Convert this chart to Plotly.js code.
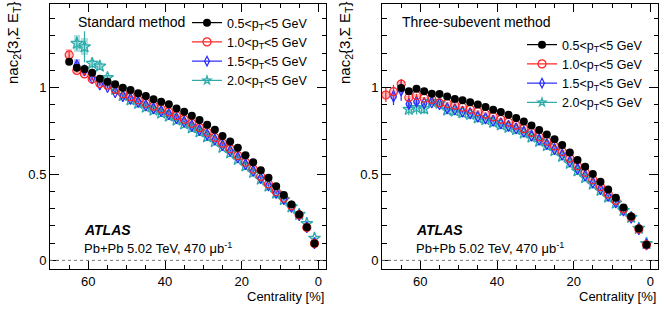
<!DOCTYPE html>
<html>
<head>
<meta charset="utf-8">
<script src="https://cdn.plot.ly/plotly-3.0.1.min.js"></script>
<style>html,body{margin:0;padding:0;background:#fff;}#chart{width:664px;height:312px;}</style>
</head>
<body>
<div id="chart"></div>
<script>
// ---------- data ----------
const seriesNames = ["0.5&lt;p<sub>T</sub>&lt;5 GeV", "1.0&lt;p<sub>T</sub>&lt;5 GeV", "1.5&lt;p<sub>T</sub>&lt;5 GeV", "2.0&lt;p<sub>T</sub>&lt;5 GeV"];
const xTickVals = [0, 20, 40, 60];
const yTickVals = [0, 0.5, 1];
const yTickText = ["0", "0.5", "1"];

// Standard method (left panel)
const centL_black = [65,63,61,59,57,55,53,51,49,47,45,43,41,39,37,35,33,31,29,27,25,23,21,19,17,15,13,11,9,7,5,3,1];
const valL_black  = [1.150,1.116,1.108,1.087,1.052,1.035,1.020,1.000,0.987,0.968,0.952,0.933,0.919,0.904,0.880,0.861,0.837,0.813,0.785,0.756,0.721,0.688,0.652,0.609,0.568,0.522,0.478,0.430,0.379,0.324,0.266,0.192,0.097];
const statL_black = [0.006,0.006,0.005,0.005,0.004,0.004,0.004,0.003,0.003,0.003,0.003,0.003,0.003,0.003,0.003,0.003,0.003,0.003,0.003,0.003,0.003,0.003,0.003,0.003,0.003,0.003,0.003,0.003,0.003,0.003,0.003,0.003,0.003];
const sysL_black  = [0.014,0.014,0.013,0.012,0.012,0.011,0.010,0.010,0.010,0.010,0.010,0.010,0.010,0.010,0.010,0.010,0.010,0.010,0.010,0.010,0.010,0.010,0.010,0.010,0.010,0.010,0.009,0.009,0.009,0.008,0.008,0.007,0.006];

const centL_red = [65,63,61,59,57,55,53,51,49,47,45,43,41,39,37,35,33,31,29,27,25,23,21,19,17,15,13,11,9,7,5,3,1];
const valL_red  = [1.190,1.100,1.080,1.050,1.025,1.015,0.990,0.965,0.948,0.930,0.910,0.893,0.877,0.860,0.838,0.817,0.794,0.769,0.742,0.712,0.679,0.646,0.607,0.568,0.529,0.486,0.443,0.399,0.361,0.316,0.263,0.190,0.097];
const statL_red = [0.020,0.012,0.008,0.007,0.006,0.005,0.005,0.004,0.004,0.004,0.004,0.004,0.004,0.004,0.004,0.004,0.004,0.004,0.004,0.004,0.004,0.004,0.004,0.004,0.004,0.004,0.004,0.004,0.004,0.004,0.004,0.004,0.004];
const sysL_red  = [0.035,0.015,0.012,0.012,0.011,0.010,0.010,0.010,0.010,0.010,0.010,0.010,0.010,0.010,0.010,0.010,0.010,0.010,0.010,0.010,0.010,0.010,0.010,0.010,0.010,0.010,0.009,0.009,0.009,0.008,0.008,0.007,0.006];

const centL_blue = [63,61,59,57,55,53,51,49,47,45,43,41,39,37,35,33,31,29,27,25,23,21,19,17,15,13,11,9,7,5,3,1];
const valL_blue  = [1.130,1.100,1.055,1.020,1.005,0.975,0.952,0.935,0.918,0.898,0.881,0.865,0.847,0.824,0.803,0.781,0.756,0.729,0.700,0.667,0.634,0.596,0.557,0.518,0.476,0.434,0.391,0.354,0.310,0.262,0.192,0.100];
const statL_blue = [0.025,0.015,0.010,0.008,0.007,0.006,0.005,0.005,0.005,0.005,0.005,0.005,0.005,0.005,0.005,0.005,0.005,0.005,0.005,0.005,0.005,0.005,0.005,0.005,0.005,0.005,0.005,0.005,0.005,0.005,0.005,0.005];
const sysL_blue  = [0.035,0.015,0.012,0.012,0.011,0.010,0.010,0.010,0.010,0.010,0.010,0.010,0.010,0.010,0.010,0.010,0.010,0.010,0.010,0.010,0.010,0.010,0.010,0.010,0.010,0.010,0.009,0.009,0.009,0.008,0.008,0.007];

const centL_cyan = [63,61,59,57,55,53,51,49,47,45,43,41,39,37,35,33,31,29,27,25,23,21,19,17,15,13,11,9,7,5,3,1];
const valL_cyan  = [1.257,1.237,1.141,1.125,1.058,0.990,0.955,0.930,0.910,0.888,0.870,0.853,0.835,0.812,0.790,0.768,0.744,0.716,0.688,0.655,0.622,0.585,0.548,0.510,0.470,0.430,0.389,0.352,0.310,0.266,0.213,0.128];
const statL_cyan = [0.040,0.090,0.030,0.022,0.015,0.010,0.008,0.007,0.006,0.006,0.006,0.006,0.006,0.006,0.006,0.006,0.006,0.006,0.006,0.006,0.006,0.006,0.006,0.006,0.006,0.006,0.006,0.006,0.006,0.006,0.006,0.006];
const sysL_cyan  = [0.050,0.050,0.022,0.020,0.016,0.012,0.011,0.010,0.010,0.010,0.010,0.010,0.010,0.010,0.010,0.010,0.010,0.010,0.010,0.010,0.010,0.010,0.010,0.010,0.010,0.010,0.009,0.009,0.009,0.008,0.008,0.007];

// Three-subevent method (right panel)
const centR_black = [65,63,61,59,57,55,53,51,49,47,45,43,41,39,37,35,33,31,29,27,25,23,21,19,17,15,13,11,9,7,5,3,1];
const valR_black  = [0.998,0.979,0.994,0.980,0.965,0.963,0.949,0.935,0.928,0.916,0.903,0.888,0.873,0.860,0.843,0.825,0.805,0.781,0.755,0.729,0.701,0.668,0.625,0.582,0.543,0.501,0.456,0.410,0.363,0.306,0.254,0.185,0.090];
const statR_black = [0.012,0.008,0.006,0.005,0.005,0.004,0.004,0.004,0.004,0.003,0.003,0.003,0.003,0.003,0.003,0.003,0.003,0.003,0.003,0.003,0.003,0.003,0.003,0.003,0.003,0.003,0.003,0.003,0.003,0.003,0.003,0.003,0.003];
const sysR_black  = [0.012,0.011,0.011,0.010,0.010,0.010,0.010,0.010,0.010,0.010,0.010,0.010,0.010,0.010,0.010,0.010,0.010,0.010,0.010,0.010,0.010,0.010,0.010,0.010,0.010,0.010,0.009,0.009,0.009,0.008,0.008,0.007,0.006];

const centR_red = [69,67,65,63,61,59,57,55,53,51,49,47,45,43,41,39,37,35,33,31,29,27,25,23,21,19,17,15,13,11,9,7,5,3,1];
const valR_red  = [0.958,0.977,1.021,0.944,0.955,0.939,0.932,0.912,0.909,0.899,0.887,0.875,0.861,0.847,0.832,0.817,0.800,0.783,0.763,0.741,0.716,0.690,0.662,0.630,0.592,0.548,0.509,0.467,0.427,0.385,0.347,0.298,0.251,0.182,0.090];
const statR_red = [0.040,0.040,0.030,0.012,0.010,0.008,0.007,0.006,0.006,0.005,0.005,0.005,0.005,0.005,0.005,0.005,0.004,0.004,0.004,0.004,0.004,0.004,0.004,0.004,0.004,0.004,0.004,0.004,0.004,0.004,0.004,0.004,0.004,0.004,0.004];
const sysR_red  = [0.015,0.012,0.012,0.011,0.011,0.010,0.010,0.010,0.010,0.010,0.010,0.010,0.010,0.010,0.010,0.010,0.010,0.010,0.010,0.010,0.010,0.010,0.010,0.010,0.010,0.010,0.010,0.010,0.009,0.009,0.009,0.008,0.008,0.007,0.006];

const centR_blue = [67,65,63,61,59,57,55,53,51,49,47,45,43,41,39,37,35,33,31,29,27,25,23,21,19,17,15,13,11,9,7,5,3,1];
const valR_blue  = [0.950,0.985,0.906,0.919,0.910,0.915,0.905,0.881,0.875,0.861,0.852,0.832,0.823,0.809,0.794,0.779,0.764,0.745,0.722,0.699,0.674,0.645,0.612,0.572,0.530,0.491,0.451,0.413,0.373,0.336,0.290,0.247,0.181,0.092];
const statR_blue = [0.050,0.060,0.025,0.020,0.012,0.010,0.008,0.007,0.006,0.006,0.006,0.006,0.006,0.006,0.005,0.005,0.005,0.005,0.005,0.005,0.005,0.005,0.005,0.005,0.005,0.005,0.005,0.005,0.005,0.005,0.005,0.005,0.005,0.005];
const sysR_blue  = [0.015,0.015,0.012,0.012,0.011,0.010,0.010,0.010,0.010,0.010,0.010,0.010,0.010,0.010,0.010,0.010,0.010,0.010,0.010,0.010,0.010,0.010,0.010,0.010,0.010,0.010,0.010,0.009,0.009,0.009,0.008,0.008,0.007,0.006];

const centR_cyan = [63,61,59,57,55,53,51,49,47,45,43,41,39,37,35,33,31,29,27,25,23,21,19,17,15,13,11,9,7,5,3,1];
const valR_cyan  = [0.875,0.885,0.878,0.920,0.910,0.870,0.865,0.855,0.846,0.826,0.815,0.800,0.785,0.771,0.757,0.737,0.714,0.690,0.665,0.636,0.603,0.562,0.518,0.480,0.442,0.405,0.367,0.332,0.289,0.249,0.186,0.097];
const statR_cyan = [0.035,0.040,0.030,0.015,0.012,0.010,0.008,0.007,0.007,0.006,0.006,0.006,0.006,0.006,0.006,0.006,0.006,0.006,0.006,0.006,0.006,0.006,0.006,0.006,0.006,0.006,0.006,0.006,0.006,0.006,0.006,0.006];
const sysR_cyan  = [0.015,0.015,0.012,0.012,0.011,0.010,0.010,0.010,0.010,0.010,0.010,0.010,0.010,0.010,0.010,0.010,0.010,0.010,0.010,0.010,0.010,0.010,0.010,0.010,0.010,0.010,0.009,0.009,0.009,0.008,0.008,0.007];

// ---------- styles ----------
const FONT = "Liberation Sans, Arial, Helvetica, sans-serif";
const styles = [
  {color: "#000000", box: "rgba(150,150,150,0.45)", symbol: "circle", size: 8, lw: 0, lsize: 8},
  {color: "#ff2020", box: "rgba(255,110,110,0.45)", symbol: "circle-open", size: 8, lw: 1.2, lsize: 8},
  {color: "#2828ff", box: "rgba(110,110,255,0.45)", symbol: "diamond-tall-open", size: 8, lw: 1.2, lsize: 7},
  {color: "#2eaaaa", box: "rgba(80,190,190,0.45)", symbol: "star-open", size: 9, lw: 1.3, lsize: 6}
];

const panels = [
  {xa: "x", ya: "y", legend: "legend", sets: [
    [centL_black, valL_black, statL_black, sysL_black],
    [centL_red, valL_red, statL_red, sysL_red],
    [centL_blue, valL_blue, statL_blue, sysL_blue],
    [centL_cyan, valL_cyan, statL_cyan, sysL_cyan]]},
  {xa: "x2", ya: "y2", legend: "legend2", sets: [
    [centR_black, valR_black, statR_black, sysR_black],
    [centR_red, valR_red, statR_red, sysR_red],
    [centR_blue, valR_blue, statR_blue, sysR_blue],
    [centR_cyan, valR_cyan, statR_cyan, sysR_cyan]]}
];

const traces = [];
// systematic boxes
panels.forEach(p => {
  p.sets.forEach((s, i) => {
    const [c, v, st, sy] = s;
    traces.push({
      type: "bar", x: c, y: sy.map(e => 2 * e), base: v.map((val, k) => val - sy[k]),
      width: 1.7, xaxis: p.xa, yaxis: p.ya, showlegend: false, hoverinfo: "skip",
      marker: {color: styles[i].box, line: {width: 0}}
    });
  });
});
// points with stat errors (drawn in reverse so black is on top)
panels.forEach(p => {
  for (let i = 3; i >= 0; i--) {
    const [c, v, st] = p.sets[i];
    const sty = styles[i];
    traces.push({
      type: "scatter", mode: "markers", x: c, y: v, xaxis: p.xa, yaxis: p.ya, showlegend: false,
      error_y: {type: "data", array: st, visible: true, width: 0, thickness: 1.2, color: sty.color},
      marker: {symbol: sty.symbol, size: sty.size, color: sty.color, line: {color: sty.color, width: sty.lw}}
    });
  }
});
// legend entries
panels.forEach(p => {
  for (let i = 0; i < 4; i++) {
    const sty = styles[i];
    traces.push({
      type: "scatter", mode: "lines+markers", x: [null], y: [null], xaxis: p.xa, yaxis: p.ya,
      name: seriesNames[i], legend: p.legend, showlegend: true,
      line: {color: sty.color, width: 1.2},
      marker: {symbol: sty.symbol, size: sty.lsize, color: sty.color, line: {color: sty.color, width: sty.lw}}
    });
  }
});

const W = 664, H = 312;
const px = v => v / W, py = v => 1 - v / H;

function xax(dom, anchor) {
  return {domain: dom, anchor: anchor, range: [70, -2], autorange: false,
    tickvals: xTickVals, ticks: "inside", ticklen: 8, tickwidth: 1, tickcolor: "#000",
    minor: {dtick: 5, tick0: 0, ticks: "inside", ticklen: 4, tickcolor: "#000", tickwidth: 1},
    showline: true, linecolor: "#000", linewidth: 1, mirror: "ticks", showgrid: false, zeroline: false,
    tickfont: {family: FONT, size: 13, color: "#000"}, fixedrange: true};
}
function yax(anchor) {
  return {domain: [py(269), py(4)], anchor: anchor, range: [-0.05, 1.485], autorange: false,
    tickvals: yTickVals, ticktext: yTickText, ticks: "inside", ticklen: 9, tickwidth: 1, tickcolor: "#000",
    minor: {dtick: 0.1, tick0: 0, ticks: "inside", ticklen: 4.5, tickcolor: "#000", tickwidth: 1},
    showline: true, linecolor: "#000", linewidth: 1, mirror: "ticks", showgrid: false, zeroline: false,
    tickfont: {family: FONT, size: 13, color: "#000"}, fixedrange: true};
}

const legendBase = {bgcolor: "rgba(0,0,0,0)", borderwidth: 0, font: {family: FONT, size: 12.5, color: "#000"},
  itemwidth: 30, xanchor: "left", yanchor: "top", tracegroupgap: 0, itemclick: false};

const ann = [];
function addText(text, x, y, opts) {
  ann.push(Object.assign({text: text, x: px(x), y: py(y), xref: "paper", yref: "paper", showarrow: false,
    xanchor: "left", yanchor: "middle", font: {family: FONT, size: 13, color: "#000"}}, opts || {}));
}
addText("Standard method", 76, 22, {font: {family: FONT, size: 14, color: "#000"}});
addText("Three-subevent method", 400, 22, {font: {family: FONT, size: 14, color: "#000"}});
[82, 414].forEach(x0 => {
  addText("<b><i>ATLAS</i></b>", x0, 230, {font: {family: FONT, size: 14, color: "#000"}});
  addText("Pb+Pb 5.02 TeV, 470 μb<sup>-1</sup>", x0, 248);
});
[13, 345].forEach(x0 => {
  addText("nac<sub>2</sub>{3,Σ E<sub>T</sub>}", x0, 0, {textangle: -90, xanchor: "center", yanchor: "top",
    font: {family: FONT, size: 15, color: "#000"}});
});
[326, 658].forEach(x0 => {
  addText("Centrality [%]", x0, 296, {xanchor: "right"});
});

const shapes = [
  {type: "line", xref: "x domain", yref: "y", x0: 0, x1: 1, y0: 0, y1: 0, line: {color: "#777", width: 1, dash: "dot"}},
  {type: "line", xref: "x2 domain", yref: "y2", x0: 0, x1: 1, y0: 0, y1: 0, line: {color: "#777", width: 1, dash: "dot"}}
];

const layout = {
  width: W, height: H, margin: {l: 0, r: 0, t: 0, b: 0}, paper_bgcolor: "#fff", plot_bgcolor: "#fff",
  barmode: "overlay", bargap: 0,
  xaxis: xax([px(50), px(326)], "y"),
  yaxis: yax("x"),
  xaxis2: xax([px(382), px(658)], "y2"),
  yaxis2: yax("x2"),
  legend: Object.assign({}, legendBase, {x: px(187), y: py(8)}),
  legend2: Object.assign({}, legendBase, {x: px(522), y: py(30)}),
  annotations: ann, shapes: shapes, font: {family: FONT, size: 13, color: "#000"}
};

Plotly.newPlot("chart", traces, layout, {staticPlot: true, displayModeBar: false});
</script>
</body>
</html>
